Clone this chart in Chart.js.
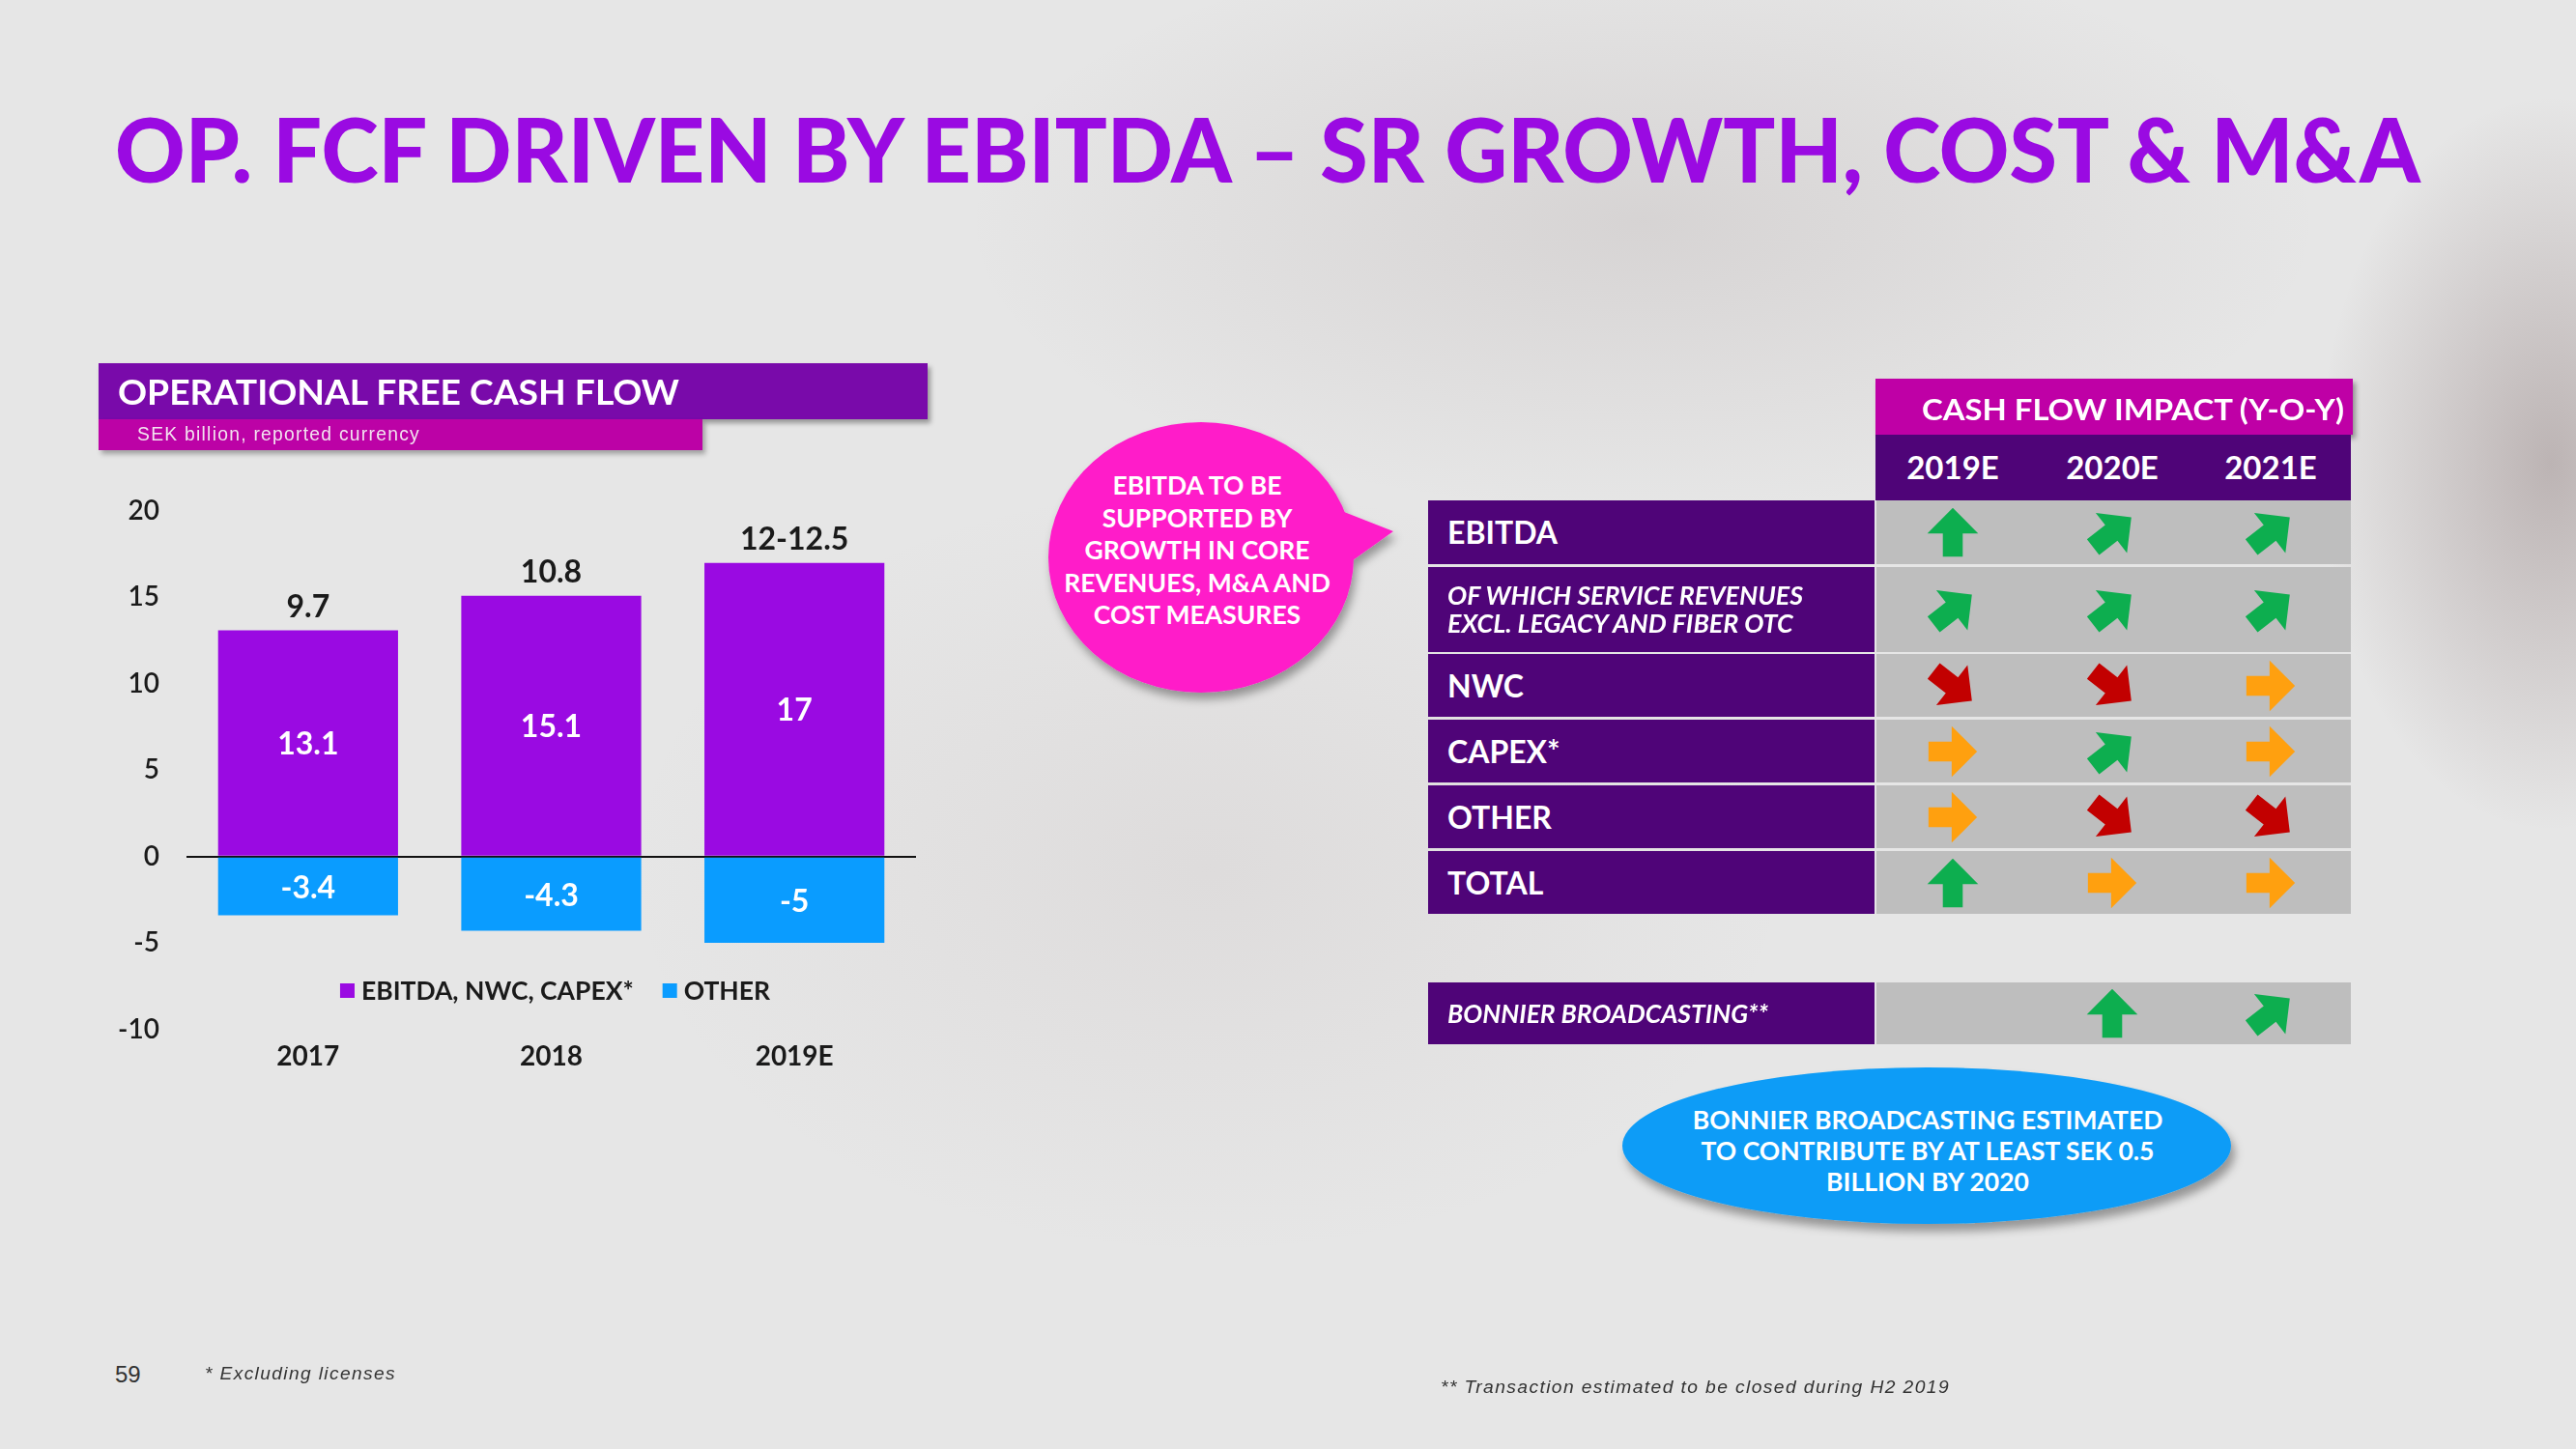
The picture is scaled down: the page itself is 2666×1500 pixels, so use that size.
<!DOCTYPE html>
<html><head><meta charset="utf-8">
<script src="https://cdn.jsdelivr.net/npm/chart.js@4.4.0/dist/chart.umd.min.js"></script>
<style>
html,body{margin:0;padding:0;}
body{width:2666px;height:1500px;position:relative;overflow:hidden;font-family:Lato,"Open Sans",sans-serif;
background:
 radial-gradient(ellipse 240px 380px at 2640px 480px, rgba(80,50,50,0.28), rgba(80,50,50,0) 100%),
 radial-gradient(ellipse 700px 300px at 1700px 230px, rgba(120,100,100,0.14), rgba(120,100,100,0) 100%),
 radial-gradient(ellipse 600px 400px at 1250px 900px, rgba(150,130,130,0.10), rgba(150,130,130,0) 100%),
 #e6e6e6;}
.abs{position:absolute;white-space:nowrap;}
.fit{transform-origin:0 0;}
#title{left:119px;top:108px;font-size:92px;line-height:1;font-weight:900;color:#9A0AE2;}
#hbar{left:102px;top:376px;width:858px;height:58px;background:#790AAA;box-shadow:3px 4px 5px rgba(0,0,0,0.35);}
#sbar{left:102px;top:434px;width:625px;height:32px;background:#BC02A6;box-shadow:3px 4px 5px rgba(0,0,0,0.30);}
#htxt{left:122px;top:387px;font-size:36px;line-height:1;font-weight:700;color:#fff;}
#stxt{left:142px;top:437px;font-size:20px;line-height:24px;font-family:"Liberation Sans",Arial,sans-serif;color:#f3e3f0;letter-spacing:1.3px;}
#chartbox{left:100px;top:479px;width:860px;height:661px;}
#chartbox canvas{display:block;}
.cell{position:absolute;display:flex;align-items:center;box-sizing:border-box;}
.lab{background:#4F0478;color:#fff;font-weight:700;padding-left:20px;}
.gray{background:#BEBEBE;}
.foot{font-family:"Liberation Sans",Arial,sans-serif;color:#333;font-style:italic;font-size:18px;letter-spacing:1.3px;}
</style></head><body>

<div id="title" class="abs fit" data-w="2386">OP. FCF DRIVEN BY EBITDA – SR GROWTH, COST &amp; M&amp;A</div>

<div id="hbar" class="abs"></div>
<div id="sbar" class="abs"></div>
<div id="htxt" class="abs fit" data-w="581">OPERATIONAL FREE CASH FLOW</div>
<div id="stxt" class="abs fit" data-w="293">SEK billion, reported currency</div>

<div id="chartbox" class="abs"><canvas id="c" width="860" height="661"></canvas></div>

<!-- speech bubble -->
<svg class="abs" style="left:1060px;top:420px;overflow:visible" width="420" height="320">
  <defs><filter id="sh" x="-20%" y="-20%" width="140%" height="150%"><feDropShadow dx="3" dy="7" stdDeviation="5" flood-color="#000" flood-opacity="0.35"/></filter></defs>
  <g filter="url(#sh)">
    <ellipse cx="183" cy="157" rx="158" ry="140" fill="#FF1CC9"/>
    <polygon points="326,108 382,130 340,160" fill="#FF1CC9"/>
  </g>
</svg>
<div id="bubtxt" class="abs" style="left:1080px;top:486px;width:318px;text-align:center;font-size:26.5px;line-height:33.6px;font-weight:700;color:#fff;white-space:normal;"></div>

<!-- table -->
<div id="table"></div>

<!-- blue ellipse -->
<svg class="abs" style="left:1660px;top:1090px;overflow:visible" width="680" height="200">
  <defs><filter id="sh2" x="-10%" y="-20%" width="120%" height="160%"><feDropShadow dx="4" dy="8" stdDeviation="5" flood-color="#000" flood-opacity="0.35"/></filter></defs>
  <ellipse cx="334" cy="96" rx="315" ry="81" fill="#0B9CF7" filter="url(#sh2)"/>
</svg>
<div id="blutxt" class="abs" style="left:1690px;top:1143px;width:610px;text-align:center;font-size:26.5px;line-height:32px;font-weight:700;color:#fff;white-space:normal;"></div>

<div class="abs" style="left:119px;top:1409px;font-family:'Liberation Sans',Arial,sans-serif;font-size:24px;color:#333;">59</div>
<div class="abs foot fit" style="left:212px;top:1412px;" data-w="198">* Excluding licenses</div>
<div class="abs foot fit" style="left:1491px;top:1426px;" data-w="527">** Transaction estimated to be closed during H2 2019</div>

<script>
// ---------------- data ----------------
const categories = ["2017", "2018", "2019E"];
const seriesNames = ["EBITDA, NWC, CAPEX*", "OTHER"];
const ebitdaNwcCapex = [13.1, 15.1, 17];
const otherValues = [-3.4, -4.3, -5];
const totalLabels = ["9.7", "10.8", "12-12.5"];
const yMin = -10, yMax = 20, yStep = 5;

const bubbleText = ["EBITDA TO BE", "SUPPORTED BY", "GROWTH IN CORE", "REVENUES, M&A AND", "COST MEASURES"];
const ellipseText = ["BONNIER BROADCASTING ESTIMATED", "TO CONTRIBUTE BY AT LEAST SEK 0.5", "BILLION BY 2020"];

const tableHeader = "CASH FLOW IMPACT (Y-O-Y)";
const tableYears = ["2019E", "2020E", "2021E"];
const tableRows = ["EBITDA", "OF WHICH SERVICE REVENUES|EXCL. LEGACY AND FIBER OTC", "NWC", "CAPEX*", "OTHER", "TOTAL"];
const tableArrows = [
  ["up", "ne", "ne"],
  ["ne", "ne", "ne"],
  ["se", "se", "e"],
  ["e", "ne", "e"],
  ["e", "se", "se"],
  ["up", "e", "e"]
];
const bonnierRow = "BONNIER BROADCASTING**";
const bonnierArrows = ["", "up", "ne"];

// ---------------- texts ----------------
document.getElementById('bubtxt').innerHTML = bubbleText.map(t => t.replace(/&/g,'&amp;')).join('<br>');
document.getElementById('blutxt').innerHTML = ellipseText.join('<br>');

// ---------------- table ----------------
const arrowColor = {up:'#0DAE4F', ne:'#0DAE4F', e:'#FFA00F', se:'#C20000'};
const arrowAngle = {up:-90, ne:-38, e:0, se:38};
function arrowSvg(t){
  if(!t) return '';
  return `<svg width="64" height="64" viewBox="0 0 56 56" style="position:absolute;left:-32px;top:-32px">
    <g transform="rotate(${arrowAngle[t]} 28 28)">
      <polygon points="6,19 27,19 27,5 50,28 27,51 27,37 6,37" fill="${arrowColor[t]}"/>
    </g></svg>`;
}
const tbl = document.getElementById('table');
let html = '';
html += `<div class="abs" style="left:1941px;top:392px;width:494px;height:58px;background:#BF00A6;box-shadow:3px 4px 5px rgba(0,0,0,0.35);"></div>`;
html += `<div class="abs fit" data-w="437" style="left:1989px;top:408px;font-size:31px;line-height:1;font-weight:700;color:#fff;">${tableHeader}</div>`;
html += `<div class="abs" style="left:1941px;top:450px;width:492px;height:68px;background:#4F0478;"></div>`;
const colCenters = [2021, 2186, 2350];
tableYears.forEach((y,i)=>{
  html += `<div class="abs" style="left:${colCenters[i]-80}px;top:467px;width:160px;text-align:center;font-size:33px;line-height:1;font-weight:700;color:#fff;">${y}</div>`;
});
const rowTops = [518, 587, 677, 745, 813, 881];
const rowHeights = [66, 88, 65, 65, 65, 65];
function row(label, arrows, top, h, italic, fitW){
  let s = '';
  let lab = label.split('|').join('<br>');
  const inner = fitW ? `<span class="fit" data-w="${fitW}" style="display:inline-block;">${lab}</span>` : lab;
  s += `<div class="cell lab" style="left:1478px;top:${top}px;width:462px;height:${h}px;font-size:${italic?26:32}px;line-height:${italic?29:32}px;${italic?'font-style:italic;':''}">${inner}</div>`;
  s += `<div class="cell gray" style="left:1942px;top:${top}px;width:491px;height:${h}px;"></div>`;
  arrows.forEach((a,i)=>{
    s += `<div class="abs" style="left:${colCenters[i]}px;top:${top+h/2}px;width:0;height:0;">${arrowSvg(a)}</div>`;
  });
  return s;
}
tableRows.forEach((r,i)=>{
  const italic = r.indexOf('|')>=0;
  html += row(r, tableArrows[i], rowTops[i], rowHeights[i], italic, italic ? 368 : 0);
});
html += row(bonnierRow, bonnierArrows, 1017, 64, true, 332);
tbl.innerHTML = html;

// ---------------- chart ----------------
const labelPlugin = {
  id: 'barLabels',
  afterDatasetsDraw(chart){
    const ctx = chart.ctx;
    ctx.save();
    ctx.textAlign = 'center';
    ctx.textBaseline = 'middle';
    chart.data.datasets.forEach((ds, i) => {
      const meta = chart.getDatasetMeta(i);
      meta.data.forEach((bar, j) => {
        ctx.fillStyle = '#ffffff';
        ctx.font = '700 32px Lato';
        ctx.fillText(String(ds.data[j]), bar.x, (bar.y + bar.base) / 2 + 2);
      });
    });
    const top = chart.getDatasetMeta(0);
    top.data.forEach((bar, j) => {
      ctx.fillStyle = '#1a1a1a';
      ctx.font = '700 32px Lato';
      ctx.fillText(totalLabels[j], bar.x, bar.y - 24);
    });
    // legend inside the plot, near the bottom
    const ca = chart.chartArea;
    const ly = ca.bottom - 40;
    ctx.font = '700 26.5px Lato';
    ctx.textAlign = 'left';
    const sq = 15, gap = 7, between = 30;
    const items = chart.data.datasets.map(d => ({t: d.label, c: d.backgroundColor, w: ctx.measureText(d.label).width}));
    const total = items.reduce((a, it) => a + sq + gap + it.w, 0) + between * (items.length - 1);
    let x = (ca.left + ca.right) / 2 - total / 2 + 4;
    items.forEach(it => {
      ctx.fillStyle = it.c;
      ctx.fillRect(x, ly - sq / 2, sq, sq);
      x += sq + gap;
      ctx.fillStyle = '#1a1a1a';
      ctx.fillText(it.t, x, ly + 1);
      x += it.w + between;
    });
    ctx.restore();
  }
};

new Chart(document.getElementById('c'), {
  type: 'bar',
  data: {
    labels: categories,
    datasets: [
      {label: seriesNames[0], data: ebitdaNwcCapex, backgroundColor: '#9A0AE2', stack: 's'},
      {label: seriesNames[1], data: otherValues, backgroundColor: '#0A9CFF', stack: 's'}
    ]
  },
  options: {
    responsive: false,
    animation: false,
    devicePixelRatio: 1,
    categoryPercentage: 0.74,
    barPercentage: 1,
    layout: {padding: {top: 50, right: 12, left: 0, bottom: 0}},
    plugins: {legend: {display: false}, tooltip: {enabled: false}},
    scales: {
      x: {
        stacked: true,
        grid: {display: false, drawTicks: false},
        border: {display: false},
        ticks: {color: '#1a1a1a', font: {family: 'Lato', size: 28, weight: 700}, padding: 12},
        afterFit: s => { s.height = 74.5; }
      },
      y: {
        stacked: true,
        min: yMin, max: yMax,
        border: {display: false},
        grid: {
          drawTicks: false,
          color: c => (c.tick && c.tick.value === 0) ? '#111111' : 'rgba(0,0,0,0)',
          lineWidth: 2
        },
        ticks: {stepSize: yStep, color: '#1a1a1a', font: {family: 'Lato', size: 28, weight: 600}, padding: 28},
        afterFit: s => { s.width = 93; }
      }
    }
  },
  plugins: [labelPlugin]
});

// ---------------- fit text widths ----------------
function fitAll(){
  document.querySelectorAll('.fit').forEach(el => {
    el.style.transform = 'none';
    const w = el.getBoundingClientRect().width;
    const target = parseFloat(el.dataset.w);
    if (w > 0) el.style.transform = `scaleX(${target / w})`;
  });
}
fitAll();
if (document.fonts && document.fonts.ready) document.fonts.ready.then(fitAll);
</script>
</body></html>
